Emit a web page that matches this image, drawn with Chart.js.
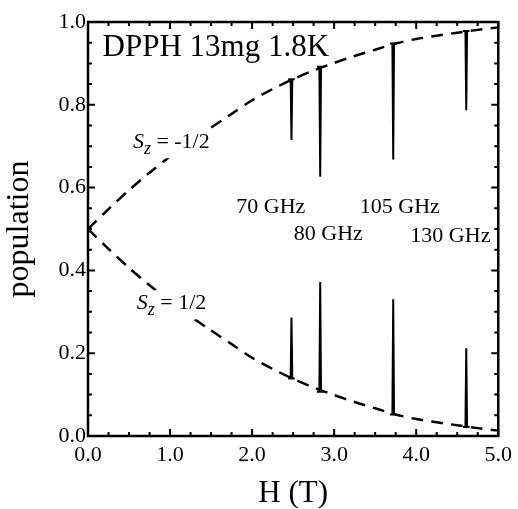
<!DOCTYPE html>
<html lang="en">
<head>
    <meta charset="UTF-8">
    <title>DPPH spin populations</title>
    <script src="https://cdn.jsdelivr.net/npm/chart.js@4.4.1/dist/chart.umd.min.js"></script>
    <style>
        * {
            margin: 0;
            padding: 0;
            box-sizing: border-box;
        }

        body {
            background: #fff;
        }

        .chart-box {
            width: 518px;
            height: 509px;
        }
    </style>
</head>
<body>
    <div class="chart-box">
        <canvas id="popChart" width="518" height="509"></canvas>
    </div>

    <script>
        // Magnetic field (T) and thermal populations of the two spin levels
        const fields = [0, 0.25, 0.5, 0.75, 1.0, 1.25, 1.5, 1.75, 2.0, 2.25, 2.5,
                        2.75, 3.0, 3.25, 3.5, 3.75, 4.0, 4.25, 4.5, 4.75, 5.0];
        const popMinusHalf = [0.500, 0.548, 0.594, 0.636, 0.675, 0.711, 0.745, 0.778, 0.811, 0.838, 0.862,
                              0.883, 0.901, 0.918, 0.933, 0.948, 0.959, 0.967, 0.974, 0.981, 0.987];
        const popPlusHalf = [0.500, 0.452, 0.406, 0.364, 0.325, 0.289, 0.255, 0.222, 0.189, 0.162, 0.138,
                             0.117, 0.099, 0.082, 0.067, 0.052, 0.041, 0.033, 0.026, 0.019, 0.013];

        // Resonance lines: field position, level population before and at the line
        const lineFreqs = ['70 GHz', '80 GHz', '105 GHz', '130 GHz'];
        const lineFields = [2.48, 2.83, 3.72, 4.61];
        const minusBase = [0.862, 0.892, 0.948, 0.978];
        const minusDip = [0.715, 0.626, 0.668, 0.787];
        const plusBase = [0.139, 0.107, 0.052, 0.022];
        const plusPeak = [0.286, 0.372, 0.330, 0.212];

        // Axis tick labels
        const xTickLabels = ['0.0', '1.0', '2.0', '3.0', '4.0', '5.0'];
        const yTickLabels = ['0.0', '0.2', '0.4', '0.6', '0.8', '1.0'];

        const serif = "'Liberation Serif', 'Times New Roman', serif";
        Chart.defaults.font.family = serif;
        Chart.defaults.color = '#000';

        function curve(values) {
            return fields.map((x, i) => ({ x: x, y: values[i] }));
        }

        // narrow spike sitting on the dashed curve
        function spike(x0, base, tip) {
            return [
                { x: x0 - 0.04, y: base },
                { x: x0 - 0.01, y: base },
                { x: x0, y: tip },
                { x: x0 + 0.01, y: base },
                { x: x0 + 0.04, y: base }
            ];
        }

        const dashed = {
            borderColor: '#000',
            borderWidth: 2.5,
            borderDash: [12, 8],
            pointRadius: 0,
            tension: 0.3,
            fill: false
        };
        const solid = {
            borderColor: '#000',
            borderWidth: 2,
            pointRadius: 0,
            tension: 0,
            fill: false
        };

        const datasets = [
            Object.assign({ label: 'Sz = -1/2', data: curve(popMinusHalf) }, dashed),
            Object.assign({ label: 'Sz = 1/2', data: curve(popPlusHalf) }, dashed)
        ];
        lineFields.forEach((x0, i) => {
            datasets.push(Object.assign({ label: lineFreqs[i] + ' -1/2', data: spike(x0, minusBase[i], minusDip[i]) }, solid));
            datasets.push(Object.assign({ label: lineFreqs[i] + ' 1/2', data: spike(x0, plusBase[i], plusPeak[i]) }, solid));
        });

        // text placed in data coordinates
        const notes = [
            { text: 'DPPH 13mg 1.8K', x: 0.178, y: 0.918, size: 31 },
            { text: lineFreqs[0], x: 1.808, y: 0.538, size: 22 },
            { text: lineFreqs[1], x: 2.508, y: 0.473, size: 22 },
            { text: lineFreqs[2], x: 3.313, y: 0.539, size: 22 },
            { text: lineFreqs[3], x: 3.929, y: 0.468, size: 22 }
        ];
        const spinNotes = [
            { value: ' = -1/2', x: 0.547, y: 0.695 },
            { value: ' = 1/2', x: 0.595, y: 0.306 }
        ];

        // closed frame with inward major/minor ticks on all sides
        const frameTicks = {
            id: 'frameTicks',
            afterDatasetsDraw(chart) {
                const { ctx, chartArea: a, scales } = chart;
                const xs = scales.x, ys = scales.y;
                ctx.save();
                ctx.strokeStyle = '#000';
                ctx.lineWidth = 2;
                ctx.beginPath();
                for (let i = 0; i <= 20; i++) {
                    const px = xs.getPixelForValue(i * 0.25);
                    const len = i % 4 === 0 ? 7 : 4;
                    ctx.moveTo(px, a.bottom); ctx.lineTo(px, a.bottom - len);
                    ctx.moveTo(px, a.top); ctx.lineTo(px, a.top + len);
                }
                for (let i = 0; i <= 20; i++) {
                    const py = ys.getPixelForValue(i * 0.05);
                    const len = i % 4 === 0 ? 7 : 4;
                    ctx.moveTo(a.left, py); ctx.lineTo(a.left + len, py);
                    ctx.moveTo(a.right, py); ctx.lineTo(a.right - len, py);
                }
                ctx.stroke();
                ctx.lineWidth = 2.5;
                ctx.strokeRect(a.left, a.top, a.right - a.left, a.bottom - a.top);
                ctx.restore();
            },
            afterDraw(chart) {
                const { ctx, scales } = chart;
                const xs = scales.x, ys = scales.y;
                ctx.save();
                ctx.fillStyle = '#000';
                ctx.textBaseline = 'alphabetic';
                ctx.textAlign = 'left';
                notes.forEach(n => {
                    ctx.font = n.size + 'px ' + serif;
                    ctx.fillText(n.text, xs.getPixelForValue(n.x), ys.getPixelForValue(n.y));
                });
                spinNotes.forEach(n => {
                    let px = xs.getPixelForValue(n.x);
                    const py = ys.getPixelForValue(n.y);
                    ctx.font = 'italic 22px ' + serif;
                    const wS = ctx.measureText('S').width;
                    ctx.font = 'italic 18px ' + serif;
                    const wz = ctx.measureText('z').width;
                    ctx.font = '22px ' + serif;
                    const wv = ctx.measureText(n.value).width;
                    // clear the dashed curve behind the label
                    ctx.fillStyle = '#fff';
                    ctx.fillRect(px - 3, py - 19, wS + wz + wv + 6, 29);
                    ctx.fillStyle = '#000';
                    ctx.font = 'italic 22px ' + serif;
                    ctx.fillText('S', px, py);
                    px += wS;
                    ctx.font = 'italic 18px ' + serif;
                    ctx.fillText('z', px, py + 6);
                    px += wz;
                    ctx.font = '22px ' + serif;
                    ctx.fillText(n.value, px, py);
                });
                ctx.restore();
            }
        };

        new Chart(document.getElementById('popChart'), {
            type: 'line',
            data: { datasets: datasets },
            options: {
                responsive: false,
                animation: false,
                layout: {
                    padding: { left: 0, right: 16, top: 22, bottom: 0 }
                },
                plugins: {
                    legend: { display: false },
                    tooltip: { enabled: false }
                },
                scales: {
                    x: {
                        type: 'linear',
                        min: 0,
                        max: 5,
                        grid: { display: false, drawTicks: false },
                        border: { display: false },
                        ticks: {
                            stepSize: 1,
                            padding: 6,
                            maxRotation: 0,
                            font: { size: 22 },
                            callback: (v, i) => xTickLabels[i]
                        },
                        title: {
                            display: true,
                            text: 'H (T)',
                            padding: 0,
                            font: { size: 31, lineHeight: 1.0 }
                        },
                        afterFit: scale => { scale.height = 73; }
                    },
                    y: {
                        min: 0,
                        max: 1,
                        grid: { display: false, drawTicks: false },
                        border: { display: false },
                        ticks: {
                            stepSize: 0.2,
                            padding: 2,
                            font: { size: 22 },
                            callback: (v, i) => yTickLabels[i]
                        },
                        title: {
                            display: true,
                            text: 'population',
                            padding: 0,
                            font: { size: 32, lineHeight: 1.2 }
                        },
                        afterFit: scale => { scale.width = 88; }
                    }
                }
            },
            plugins: [frameTicks]
        });
    </script>
</body>
</html>
